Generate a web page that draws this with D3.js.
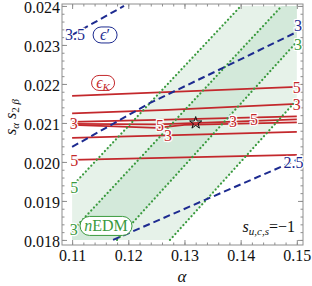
<!DOCTYPE html>
<html><head><meta charset="utf-8">
<script src="https://cdn.jsdelivr.net/npm/d3@7"></script>
<style>body{margin:0;background:#fff}svg{display:block}</style>
</head><body><svg id="c" width="312" height="286"></svg>
<script>
// ---- tick labels / frame ----
const xTicks=[0.11,0.12,0.13,0.14,0.15];
const yTicks=[0.018,0.019,0.020,0.021,0.022,0.023,0.024];
const xFrame=[0.1082,0.1511];
const yFrame=[0.01787,0.02405];
const plotBox=[[0.11,0.018],[0.15,0.024]];
// ---- nEDM contours (green dotted) ----
const nedm5Left=[[0.11,0.01938],[0.14004,0.024]];
const nedm3Left=[[0.11,0.01823],[0.14733,0.024]];
const nedm3Right=[[0.118,0.018],[0.15,0.02308]];
const nedm5Right=[[0.12742,0.018],[0.15,0.02159]];
// ---- epsilon' contours (blue dashed) ----
const eps35=[[0.11,0.023256],[0.11924,0.024]];
const eps3=[[0.11,0.020385],[0.12387,0.021513],[0.13684,0.02241],[0.15,0.023333]];
const eps25=[[0.11729,0.018],[0.15,0.02005]];
// ---- epsilon_K contours (red) ----
const epsK1=[[0.11,0.021692],[0.15,0.021923]];
const epsK2=[[0.11,0.021244],[0.12711,0.021333],[0.15,0.021487]];
const epsKa=[[0.11,0.021026],[0.12511,0.021077],[0.15,0.021167]];
const epsKb=[[0.11,0.020974],[0.12511,0.020962],[0.15,0.02109]];
const epsKc=[[0.11,0.020949],[0.12511,0.020872],[0.13,0.020949],[0.15,0.021013]];
const epsK4=[[0.11,0.020615],[0.15,0.020769]];
const epsK5=[[0.11,0.020051],[0.15,0.020179]];
// ---- contour labels ----
const greenLabels=[["5",0.1104,0.01935],["3",0.1103,0.01826],["3",0.1502,0.02301]];
const blueLabels=[["3.5",0.1105,0.02326],["3",0.1502,0.02349],["2.5",0.1494,0.01999]];
const redLabels=[["5",0.1500,0.021923],["3",0.1500,0.021487],["3",0.1103,0.021],["5",0.12564,0.020949],
  ["3",0.13862,0.021051],["5",0.14236,0.021103],["3",0.12707,0.020680],["5",0.1104,0.020051]];
const starPoint=[0.132,0.021];
const boxLabels=[["eps1",0.11587,0.023256],["epsK",0.11551,0.022026],["nedm",0.11604,0.018359]];

const RED="#c3282c",BLUE="#1d2b90",GREEN="#3a9a3e",FRAME="#8e8e8e";
const svg=d3.select("#c");
const x=d3.scaleLinear().domain(xFrame).range([62,303]);
const y=d3.scaleLinear().domain(yFrame).range([245,4]);
const line=d3.line().x(d=>x(d[0])).y(d=>y(d[1]));
const SERIF="'Liberation Serif','DejaVu Serif',serif";

// shaded bands
const lightPoly=[nedm5Left[0],nedm5Left[1],[plotBox[1][0],plotBox[1][1]],nedm5Right[1],nedm5Right[0],[plotBox[0][0],plotBox[0][1]]];
const darkPoly=[nedm3Left[0],nedm3Left[1],[plotBox[1][0],plotBox[1][1]],nedm3Right[1],nedm3Right[0],[plotBox[0][0],plotBox[0][1]]];
svg.append("path").attr("d",line(lightPoly)+"Z").attr("fill","#e6f2e9");
svg.append("path").attr("d",line(darkPoly)+"Z").attr("fill","#d3e9da");

// axes (ticks inward)
function styleAxis(g){g.select(".domain").remove();g.selectAll(".tick line").attr("stroke",FRAME);
  g.selectAll("text").attr("font-family",SERIF).attr("font-size",16).attr("fill","#111");}
const xMinor=x.ticks(20), yMinor=y.ticks(30);
svg.append("g").attr("transform","translate(0,245)").call(d3.axisBottom(x).tickValues(xMinor).tickSize(-2.5).tickFormat("")).call(styleAxis);
svg.append("g").attr("transform","translate(0,245)").call(d3.axisBottom(x).tickValues(xTicks).tickSize(-5).tickPadding(5).tickFormat(d3.format(".2f"))).call(styleAxis);
svg.append("g").attr("transform","translate(0,4)").call(d3.axisTop(x).tickValues(xMinor).tickSize(-2.5).tickFormat("")).call(styleAxis);
svg.append("g").attr("transform","translate(0,4)").call(d3.axisTop(x).tickValues(xTicks).tickSize(-5).tickFormat("")).call(styleAxis);
svg.append("g").attr("transform","translate(62,0)").call(d3.axisLeft(y).tickValues(yMinor).tickSize(-2.5).tickFormat("")).call(styleAxis);
const yAx=svg.append("g").attr("transform","translate(62,0)").call(d3.axisLeft(y).tickValues(yTicks).tickSize(-5).tickPadding(2).tickFormat(d3.format(".3f"))).call(styleAxis);
yAx.selectAll("text").attr("dy","0.38em");
svg.append("g").attr("transform","translate(303,0)").call(d3.axisRight(y).tickValues(yMinor).tickSize(-2.5).tickFormat("")).call(styleAxis);
svg.append("g").attr("transform","translate(303,0)").call(d3.axisRight(y).tickValues(yTicks).tickSize(-5).tickFormat("")).call(styleAxis);
svg.append("rect").attr("x",x(xFrame[0])).attr("y",y(yFrame[1])).attr("width",x(xFrame[1])-x(xFrame[0]))
  .attr("height",y(yFrame[0])-y(yFrame[1])).attr("fill","none").attr("stroke",FRAME).attr("stroke-width",1);

// red eps_K lines
[epsK1,epsK2,epsKa,epsKb,epsKc,epsK4,epsK5].forEach(d=>svg.append("path").attr("d",line(d))
  .attr("fill","none").attr("stroke",RED).attr("stroke-width",1.8));
// green dotted nEDM lines
[nedm5Left,nedm3Left,nedm3Right,nedm5Right].forEach(d=>svg.append("path").attr("d",line(d))
  .attr("fill","none").attr("stroke",GREEN).attr("stroke-width",2.2).attr("stroke-linecap","round").attr("stroke-dasharray","0.1,3.9"));
// blue dashed eps' lines
[eps35,eps3,eps25].forEach(d=>svg.append("path").attr("d",line(d))
  .attr("fill","none").attr("stroke",BLUE).attr("stroke-width",2).attr("stroke-dasharray","7,4"));

// star
svg.append("path").attr("transform",`translate(${x(starPoint[0])},${y(starPoint[1])})`)
  .attr("d",d3.symbol(d3.symbolStar,46)()).attr("fill","none").attr("stroke","#111").attr("stroke-width",1);

// contour labels
function labels(arr,col){arr.forEach(([t,lx,ly])=>svg.append("text").attr("x",x(lx)).attr("y",y(ly)).attr("dy","0.35em")
  .attr("text-anchor","middle").attr("font-family",SERIF).attr("font-size",16).attr("fill",col)
  .attr("stroke","#fff").attr("stroke-width",2.5).attr("paint-order","stroke").text(t));}
labels(greenLabels,GREEN);labels(blueLabels,BLUE);labels(redLabels,RED);

// boxed legend labels
function boxLabel(cx,cy,w,h,col,build){
  svg.append("rect").attr("x",cx-w/2).attr("y",cy-h/2).attr("width",w).attr("height",h).attr("rx",h/2).attr("ry",h/2)
    .attr("fill","#fff").attr("stroke",col).attr("stroke-width",1);
  const t=svg.append("text").attr("x",cx).attr("y",cy).attr("dy","0.33em").attr("text-anchor","middle")
    .attr("font-family",SERIF).attr("font-size",16).attr("fill",col);
  build(t);}
boxLabels.forEach(([k,lx,ly])=>{
  if(k==="eps1") boxLabel(x(lx),y(ly),24,16,BLUE,t=>{t.append("tspan").attr("font-style","italic").text("ϵ");t.append("tspan").text("′");});
  if(k==="epsK") boxLabel(x(lx),y(ly),23,15,RED,t=>{t.append("tspan").attr("font-style","italic").text("ϵ");
     t.append("tspan").attr("font-style","italic").attr("font-size",11).attr("dy",3).text("K");});
  if(k==="nedm") boxLabel(x(lx),y(ly),52,19,GREEN,t=>{t.append("tspan").attr("font-style","italic").text("n");t.append("tspan").text("EDM");});
});

// s_{u,c,s} = -1
const st=svg.append("text").attr("x",295).attr("y",232).attr("text-anchor","end").attr("font-family",SERIF).attr("font-size",16).attr("fill","#111");
st.append("tspan").attr("font-style","italic").text("s");
st.append("tspan").attr("font-style","italic").attr("font-size",11).attr("dy",3).text("u,c,s");
st.append("tspan").attr("dy",-3).text("=−1");

// axis titles
svg.append("text").attr("x",182).attr("y",282).attr("text-anchor","middle").attr("font-family",SERIF)
  .attr("font-size",17).attr("font-style","italic").attr("fill","#111").text("α");
const yl=svg.append("text").attr("transform","translate(16,117) rotate(-90)").attr("text-anchor","middle")
  .attr("font-family",SERIF).attr("font-size",16).attr("fill","#111");
yl.append("tspan").attr("font-style","italic").text("s");
yl.append("tspan").attr("font-style","italic").attr("font-size",11).attr("dy",3).text("α");
yl.append("tspan").attr("font-style","italic").attr("dy",-3).text(" s");
yl.append("tspan").attr("font-size",11).attr("dy",3).text("2");
yl.append("tspan").attr("font-size",11).attr("font-style","italic").text(" β");
</script></body></html>
